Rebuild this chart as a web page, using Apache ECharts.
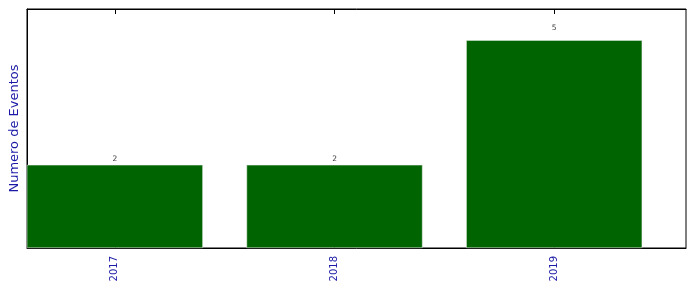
<!DOCTYPE html>
<html>
<head>
<meta charset="utf-8">
<script src="https://cdn.jsdelivr.net/npm/echarts@6/dist/echarts.min.js"></script>
<style>html,body{margin:0;padding:0;background:#fff;}#c{width:696px;height:292px;}</style>
</head>
<body>
<div id="c"></div>
<script>
const years = ['2017', '2018', '2019'];
const counts = [2, 2, 5];
const yAxisName = 'Numero de Eventos';

const positions = years.map((_, i) => i);
const chart = echarts.init(document.getElementById('c'), null, {renderer: 'canvas'});
const labelColor = '#1a1aa6';
const xCommon = {
  type: 'value', min: -0.4, max: 2.6,
  splitLine: {show: false},
  axisLine: {show: true, onZero: false, lineStyle: {color: '#000', width: 1}},
  axisTick: {show: true, inside: true, length: 5, customValues: positions, lineStyle: {color: '#000'}},
};
chart.setOption({
  animation: false,
  grid: {left: 27, right: 10, top: 9, bottom: 44, containLabel: false, outerBoundsMode: 'none',
    show: true, borderColor: '#000', borderWidth: 1},
  xAxis: [
    Object.assign({}, xCommon, {
      position: 'bottom',
      axisLabel: {show: true, customValues: positions, rotate: 90, margin: 8, color: labelColor,
        fontFamily: 'DejaVu Sans', fontSize: 10, formatter: v => years[Math.round(v)]}
    }),
    Object.assign({}, xCommon, {position: 'top', axisLabel: {show: false}})
  ],
  yAxis: [{
    type: 'value', min: 0, max: 5.75,
    name: yAxisName, nameLocation: 'middle', nameGap: 6, nameRotate: 90,
    nameTextStyle: {color: labelColor, fontFamily: 'DejaVu Sans', fontSize: 13},
    axisLine: {show: true, onZero: false, lineStyle: {color: '#000'}},
    axisTick: {show: false}, axisLabel: {show: false}, splitLine: {show: false}
  }],
  series: [{
    type: 'bar', xAxisIndex: 0,
    data: counts.map((c, i) => [positions[i], c]),
    barWidth: 176,
    itemStyle: {color: '#006400', borderColor: '#e8f0e8', borderWidth: 0.5}
  }, {
    type: 'scatter', xAxisIndex: 0, symbolSize: 0, silent: true,
    data: counts.map((c, i) => [positions[i], c * 1.05]),
    label: {show: true, position: 'top', distance: -2, color: '#000', fontFamily: 'DejaVu Sans', fontSize: 7.5,
      formatter: p => counts[p.dataIndex]}
  }]
});
</script>
</body>
</html>
